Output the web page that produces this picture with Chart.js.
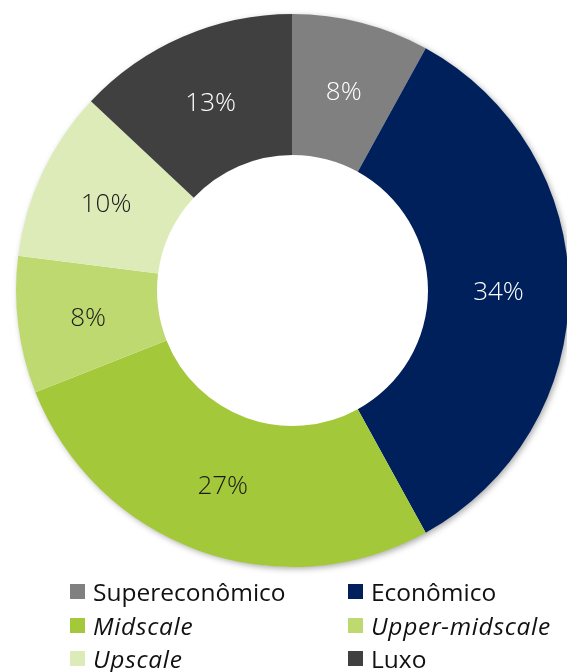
<!DOCTYPE html>
<html><head><meta charset="utf-8">
<script src="https://cdn.jsdelivr.net/npm/chart.js@4/dist/chart.umd.min.js"></script>
<style>
html,body{margin:0;padding:0;background:#fff;width:567px;height:672px;overflow:hidden;position:relative;}
#wrap{position:absolute;left:0;top:0;width:600px;height:580px;}
.leg{position:absolute;font-family:"Open Sans","Noto Sans",sans-serif;font-size:24.5px;color:#111;white-space:nowrap;line-height:28px;height:28px;}
.leg .sw{position:absolute;left:0;top:6px;width:15px;height:15px;}
.leg .tx{position:absolute;left:23px;top:0;}
</style></head>
<body>
<div id="wrap"><canvas id="c" width="600" height="580"></canvas></div>
<div id="legend"></div>
<script>
const categories = ["Supereconômico","Econômico","Midscale","Upper-midscale","Upscale","Luxo"];
const shares = [8, 34, 27, 8, 10, 13];
const colors = ["#808080","#00205B","#A3C83A","#BFD971","#DDEBB9","#404040"];
const labelColors = ["#ffffff","#ffffff","#1a1a1a","#1a1a1a","#1a1a1a","#ffffff"];
const italicFlags = [false,false,true,true,true,false];

const shadowPlugin = {
  id:'shadowRing',
  beforeDatasetsDraw(chart){
    const arc = chart.getDatasetMeta(0).data[0];
    if(!arc) return;
    const ctx = chart.ctx;
    ctx.save();
    ctx.shadowColor = 'rgba(0,0,0,0.35)';
    ctx.shadowBlur = 6;
    ctx.shadowOffsetX = 2;
    ctx.shadowOffsetY = 2;
    ctx.fillStyle = '#ffffff';
    ctx.beginPath();
    ctx.arc(arc.x, arc.y, arc.outerRadius - 0.5, 0, Math.PI*2);
    ctx.fill();
    ctx.restore();
  }
};
const labelPlugin = {
  id:'sliceLabels',
  afterDatasetsDraw(chart){
    const ctx = chart.ctx;
    const meta = chart.getDatasetMeta(0);
    ctx.save();
    ctx.font = '300 26px "Open Sans","Noto Sans",sans-serif';
    ctx.textAlign = 'center';
    ctx.textBaseline = 'middle';
    meta.data.forEach((arc,i)=>{
      const p = arc.tooltipPosition();
      ctx.fillStyle = labelColors[i];
      ctx.fillText(shares[i] + '%', p.x, p.y + 2);
    });
    ctx.restore();
  }
};

new Chart(document.getElementById('c'), {
  type:'doughnut',
  data:{labels:categories, datasets:[{data:shares, backgroundColor:colors, borderWidth:0, hoverOffset:0}]},
  options:{
    responsive:false, animation:false, cutout:'49%',
    layout:{padding:{left:16,top:14,right:31,bottom:13}},
    plugins:{legend:{display:false}, tooltip:{enabled:false}}
  },
  plugins:[shadowPlugin, labelPlugin]
});

const legPos = [[70,578],[348,578],[70,612],[348,612],[70,645],[348,645]];
const lg = document.getElementById('legend');
categories.forEach((name,i)=>{
  const d = document.createElement('div');
  d.className='leg';
  d.style.left = legPos[i][0]+'px';
  d.style.top = legPos[i][1]+'px';
  const st = italicFlags[i] ? 'font-style:italic;letter-spacing:0.7px' : 'font-style:normal';
  d.innerHTML = '<span class="sw" style="background:'+colors[i]+'"></span><span class="tx" style="'+st+'">'+name+'</span>';
  lg.appendChild(d);
});
</script>
</body></html>
